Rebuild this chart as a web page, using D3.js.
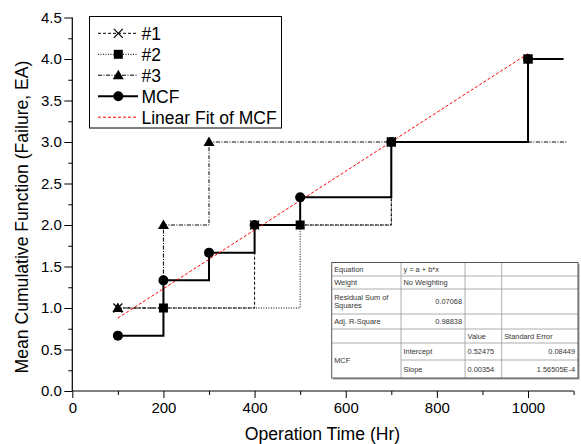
<!DOCTYPE html>
<html>
<head>
<meta charset="utf-8">
<script src="https://cdn.jsdelivr.net/npm/d3@7"></script>
<style>
  html, body { margin: 0; padding: 0; background: #fff; }
  svg { display: block; font-family: "Liberation Sans", Arial, sans-serif; }
</style>
</head>
<body>
<svg id="chart" width="581" height="444"></svg>
<script>
// ---------------- data ----------------
const s1X = [100, 400, 700, 1000];
const s1Y = [1, 2, 3, 4];
const s2X = [200, 500, 700, 1000];
const s2Y = [1, 2, 3, 4];
const s3X = [100, 200, 300];
const s3Y = [1, 2, 3];
const s3EndX = 1085;            // last observed time of unit #3 (no marker)
const mcfX = [100, 200, 300, 400, 500, 700, 1000];
const mcfY = [0.667, 1.333, 1.667, 2.0, 2.333, 3.0, 4.0];
const mcfEndX = 1078;           // end of MCF step (no marker)
const fitA = 0.52475, fitB = 0.00354;
const fitRange = [100, 1000];
const xTicks = [0, 200, 400, 600, 800, 1000];
const yTicks = [0.0, 0.5, 1.0, 1.5, 2.0, 2.5, 3.0, 3.5, 4.0, 4.5];
const legendLabels = ["#1", "#2", "#3", "MCF", "Linear Fit of MCF"];
const tableCells = [
  ["Equation", "y = a + b*x", "", ""],
  ["Weight", "No Weighting", "", ""],
  ["Residual Sum of|Squares", "0.07068", "", ""],
  ["Adj. R-Square", "0.98838", "", ""],
  ["", "", "Value", "Standard Error"],
  ["MCF", "Intercept", "0.52475", "0.08449"],
  ["", "Slope", "0.00354", "1.56505E-4"]
];

// ---------------- layout ----------------
const svg = d3.select("#chart");
const x = d3.scaleLinear().domain([0, 1100]).range([72.3, 573.6]);
const y = d3.scaleLinear().domain([0, 4.5]).range([391, 17.5]);

const styles = {
  s1: "3,2",
  s2: "1,1.5",
  s3: "4,1.5,1,1.5"
};

// axes
const xAxis = d3.axisBottom(x).tickValues(d3.range(0, 1101, 100)).tickSize(7)
  .tickFormat(d => xTicks.includes(d) ? d3.format("d")(d) : "");
const gx = svg.append("g").attr("transform", `translate(0,${y(0)})`).call(xAxis);
gx.select(".domain").attr("stroke", "#000").attr("stroke-width", 1.2).attr("d", `M${x(0)},0H${x(1100)}`);
gx.selectAll(".tick line").attr("stroke", "#000").attr("stroke-width", 1)
  .attr("y2", d => xTicks.includes(d) ? 7 : 4);
gx.selectAll(".tick text").attr("font-size", 15).attr("fill", "#000").attr("dy", null).attr("y", 22);

const yAxis = d3.axisLeft(y).tickValues(d3.range(0, 4.51, 0.25)).tickSize(8)
  .tickFormat(d => (Math.abs(d * 2 - Math.round(d * 2)) < 1e-6) ? d3.format(".1f")(d) : "");
const gy = svg.append("g").attr("transform", `translate(${x(0)},0)`).call(yAxis);
gy.select(".domain").attr("stroke", "#000").attr("stroke-width", 1.2).attr("d", `M0,${y(4.5)}V${y(0)}`);
gy.selectAll(".tick line").attr("stroke", "#000").attr("stroke-width", 1)
  .attr("x2", d => (Math.abs(d * 2 - Math.round(d * 2)) < 1e-6) ? -8 : -4);
gy.selectAll(".tick text").attr("font-size", 15).attr("fill", "#000").attr("x", -10.5);

// axis titles
svg.append("text").attr("x", 322.5).attr("y", 439.5).attr("text-anchor", "middle")
  .attr("font-size", 17.6).text("Operation Time (Hr)");
svg.append("text").attr("transform", "translate(28,217) rotate(-90)").attr("text-anchor", "middle")
  .attr("font-size", 17.6).text("Mean Cumulative Function (Failure, EA)");

// step lines
const step = d3.line().x(d => x(d[0])).y(d => y(d[1])).curve(d3.curveStepAfter);
const zip = (a, b) => a.map((v, i) => [v, b[i]]);

const pts3 = zip(s3X, s3Y).concat([[s3EndX, s3Y[s3Y.length - 1]]]);
const ptsM = zip(mcfX, mcfY).concat([[mcfEndX, mcfY[mcfY.length - 1]]]);

svg.append("path").attr("d", step(pts3)).attr("fill", "none").attr("stroke", "#000")
  .attr("stroke-width", 1).attr("stroke-dasharray", styles.s3);
svg.append("path").attr("d", step(zip(s2X, s2Y))).attr("fill", "none").attr("stroke", "#000")
  .attr("stroke-width", 1).attr("stroke-dasharray", styles.s2);
svg.append("path").attr("d", step(zip(s1X, s1Y))).attr("fill", "none").attr("stroke", "#000")
  .attr("stroke-width", 1).attr("stroke-dasharray", styles.s1);
svg.append("path").attr("d", step(ptsM)).attr("fill", "none").attr("stroke", "#000")
  .attr("stroke-width", 2);

// linear fit
svg.append("line")
  .attr("x1", x(fitRange[0])).attr("y1", y(fitA + fitB * fitRange[0]))
  .attr("x2", x(fitRange[1])).attr("y2", y(fitA + fitB * fitRange[1]))
  .attr("stroke", "#ff0000").attr("stroke-width", 1).attr("stroke-dasharray", "3,2");

// markers
function cross(g, cx, cy) {
  const r = 4.5;
  g.append("path").attr("d", `M${cx - r},${cy - r}L${cx + r},${cy + r}M${cx - r},${cy + r}L${cx + r},${cy - r}`)
    .attr("stroke", "#000").attr("stroke-width", 1.2);
}
function square(g, cx, cy) {
  g.append("rect").attr("x", cx - 4.5).attr("y", cy - 4.5).attr("width", 9).attr("height", 9).attr("fill", "#000");
}
function tri(g, cx, cy) {
  g.append("path").attr("d", `M${cx},${cy - 5.5}L${cx + 5.5},${cy + 4}L${cx - 5.5},${cy + 4}Z`).attr("fill", "#000");
}
function circ(g, cx, cy) {
  g.append("circle").attr("cx", cx).attr("cy", cy).attr("r", 5).attr("fill", "#000");
}
const mk = svg.append("g");
s3X.forEach((v, i) => tri(mk, x(v), y(s3Y[i])));
s2X.forEach((v, i) => square(mk, x(v), y(s2Y[i])));
mcfX.forEach((v, i) => circ(mk, x(v), y(mcfY[i])));
s1X.forEach((v, i) => cross(mk, x(v), y(s1Y[i])));

// legend
const lg = svg.append("g");
lg.append("rect").attr("x", 89.5).attr("y", 16.5).attr("width", 192).attr("height", 111.5)
  .attr("fill", "#fff").attr("stroke", "#000").attr("stroke-width", 1);
const legY = [33.3, 54.3, 75.2, 96.2, 117.2];
const legDash = [styles.s1, styles.s2, styles.s3, null, "3,2"];
const legMark = [cross, square, tri, circ, null];
legendLabels.forEach((lab, i) => {
  const yy = legY[i];
  lg.append("line").attr("x1", 98).attr("x2", 138).attr("y1", yy).attr("y2", yy)
    .attr("stroke", i === 4 ? "#ff0000" : "#000").attr("stroke-width", i === 3 ? 2 : 1)
    .attr("stroke-dasharray", legDash[i]);
  if (legMark[i]) legMark[i](lg, 118.3, yy);
  lg.append("text").attr("x", 141.5).attr("y", yy).attr("dy", "0.36em")
    .attr("font-size", 17.5).text(lab);
});

// fit table
const colX = [331.7, 401, 465, 501.7, 578];
const rowY = [262.5, 276, 289, 314, 329, 343, 360, 378];
const tb = svg.append("g").attr("font-size", 7.4).attr("fill", "#333");
// shadow
tb.append("rect").attr("x", colX[0] + 1.5).attr("y", rowY[0] + 1.5)
  .attr("width", colX[4] - colX[0]).attr("height", rowY[7] - rowY[0]).attr("fill", "#999");
tb.append("rect").attr("x", colX[0]).attr("y", rowY[0])
  .attr("width", colX[4] - colX[0]).attr("height", rowY[7] - rowY[0]).attr("fill", "#fff");
const gridC = "#9a9a9a";
// horizontal lines
for (let r = 1; r < 7; r++) {
  const x0 = (r === 6) ? colX[1] : colX[0];
  tb.append("line").attr("x1", x0).attr("x2", colX[4]).attr("y1", rowY[r]).attr("y2", rowY[r])
    .attr("stroke", gridC).attr("stroke-width", 0.8);
}
// vertical lines
for (let c = 1; c < 4; c++) {
  tb.append("line").attr("x1", colX[c]).attr("x2", colX[c]).attr("y1", rowY[0]).attr("y2", rowY[7])
    .attr("stroke", gridC).attr("stroke-width", 0.8);
}
tb.append("rect").attr("x", colX[0]).attr("y", rowY[0])
  .attr("width", colX[4] - colX[0]).attr("height", rowY[7] - rowY[0])
  .attr("fill", "none").attr("stroke", "#555").attr("stroke-width", 1);

const rightAligned = (r, c) => (c === 1 && (r === 2 || r === 3)) || (c === 3 && r >= 5);
tableCells.forEach((row, r) => {
  row.forEach((txt, c) => {
    if (!txt) return;
    let y0 = rowY[r], y1 = rowY[r + 1];
    if (r === 5 && c === 0) y1 = rowY[7];
    const lines = txt.split("|");
    const right = rightAligned(r, c);
    const tx = right ? colX[c + 1] - 3 : colX[c] + 2.5;
    const cy = (y0 + y1) / 2;
    const lh = 8.5;
    lines.forEach((ln, k) => {
      tb.append("text").attr("x", tx).attr("y", cy + (k - (lines.length - 1) / 2) * lh)
        .attr("dy", "0.35em").attr("text-anchor", right ? "end" : "start").text(ln);
    });
  });
});
</script>
</body>
</html>
